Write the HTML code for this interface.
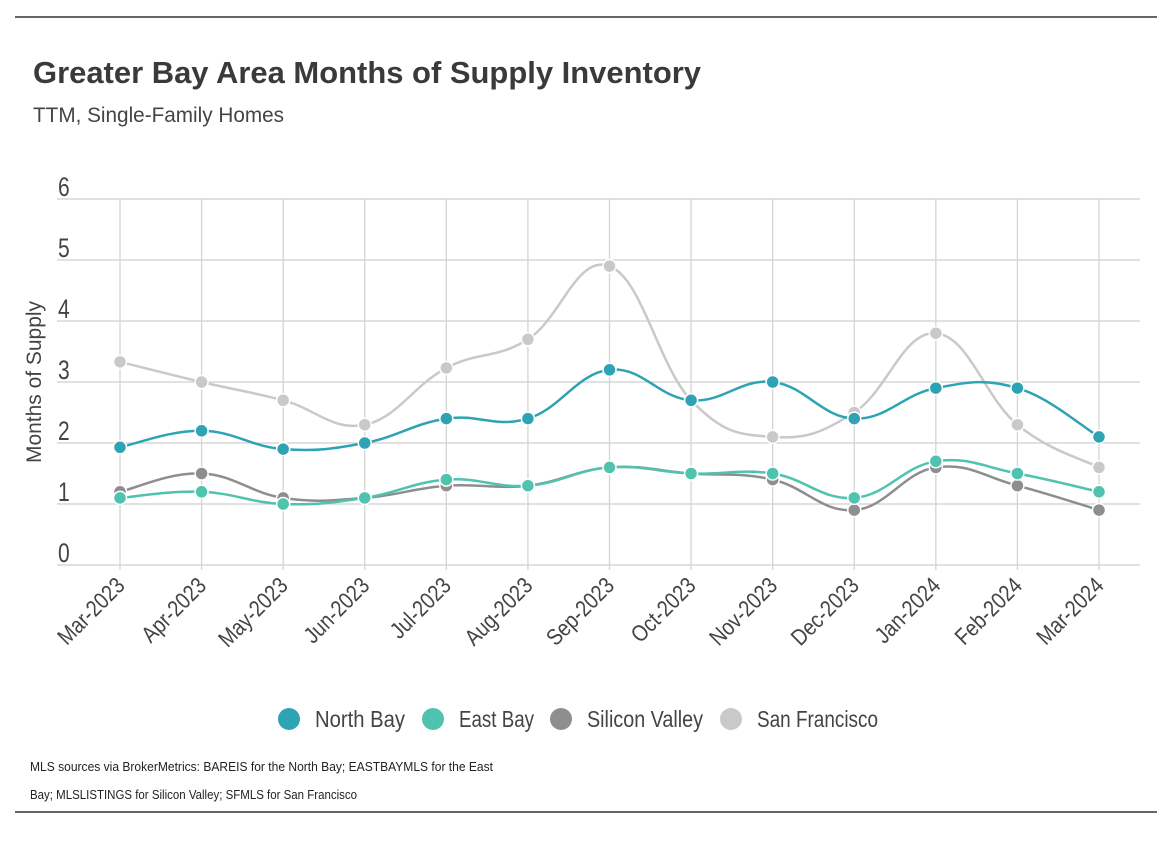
<!DOCTYPE html>
<html><head><meta charset="utf-8"><style>
html,body{margin:0;padding:0;background:#fff;}
body{width:1176px;height:846px;position:relative;overflow:hidden;font-family:"Liberation Sans",sans-serif;}
svg text{font-family:"Liberation Sans",sans-serif;}
</style></head><body>
<svg id="chart" width="1176" height="846" viewBox="0 0 1176 846">
<line x1="15" y1="17" x2="1157" y2="17" stroke="#333" stroke-width="1.5"/>
<line x1="15" y1="812" x2="1157" y2="812" stroke="#333" stroke-width="1.5"/>
<text x="33" y="83" font-size="31" font-weight="bold" fill="#3a3a3a" textLength="668" lengthAdjust="spacingAndGlyphs">Greater Bay Area Months of Supply Inventory</text>
<text x="33" y="122" font-size="21" fill="#444" textLength="251" lengthAdjust="spacingAndGlyphs">TTM, Single-Family Homes</text>
<text transform="translate(41,382) rotate(-90)" text-anchor="middle" font-size="21" fill="#444" textLength="162" lengthAdjust="spacingAndGlyphs">Months of Supply</text>
<g id="grid"></g><g id="series"></g><g id="xlabels"></g>
<g id="legend"></g>
<text x="30" y="771" font-size="12.5" fill="#222" textLength="463" lengthAdjust="spacingAndGlyphs">MLS sources via BrokerMetrics: BAREIS for the North Bay; EASTBAYMLS for the East</text>
<text x="30" y="799" font-size="12.5" fill="#222" textLength="327" lengthAdjust="spacingAndGlyphs">Bay; MLSLISTINGS for Silicon Valley; SFMLS for San Francisco</text>
</svg>
<script>
const categories=["Mar-2023","Apr-2023","May-2023","Jun-2023","Jul-2023","Aug-2023","Sep-2023","Oct-2023","Nov-2023","Dec-2023","Jan-2024","Feb-2024","Mar-2024"];
const northBay=[1.93,2.2,1.9,2.0,2.4,2.4,3.2,2.7,3.0,2.4,2.9,2.9,2.1];
const eastBay=[1.1,1.2,1.0,1.1,1.4,1.3,1.6,1.5,1.5,1.1,1.7,1.5,1.2];
const siliconValley=[1.2,1.5,1.1,1.1,1.3,1.3,1.6,1.5,1.4,0.9,1.6,1.3,0.9];
const sanFrancisco=[3.33,3.0,2.7,2.3,3.23,3.7,4.9,2.7,2.1,2.5,3.8,2.3,1.6];
const yTicks=[0,1,2,3,4,5,6];
const seriesNames=["North Bay","East Bay","Silicon Valley","San Francisco"];
const NS="http://www.w3.org/2000/svg";
function xs(i){return 120+i*(1099-120)/(categories.length-1);}
function ys(v){return 565-v*61;}
function mk(tag,attrs,parent){const e=document.createElementNS(NS,tag);for(const k in attrs)e.setAttribute(k,attrs[k]);parent.appendChild(e);return e;}
const grid=document.getElementById('grid'),ser=document.getElementById('series'),xl=document.getElementById('xlabels'),lg=document.getElementById('legend');
yTicks.forEach(t=>{
 const l=mk('line',{x1:57,x2:1140,y1:ys(t),y2:ys(t),stroke:'#cfcfcf','stroke-width':1.3},grid);
 
 
 const tx=mk('text',{x:58,y:ys(t)-3,'font-size':27,fill:'#444',transform:`translate(58,0) scale(0.78,1) translate(-58,0)`},grid);tx.textContent=t;
 
 
});
categories.forEach((c,i)=>{
 const l=mk('line',{x1:xs(i),x2:xs(i),y1:ys(6),y2:ys(0)+5,stroke:'#d4d4d4','stroke-width':1.3},grid);
 
 
 const tx=mk('text',{transform:`translate(${xs(i)+6},${587}) rotate(-45) scale(0.85,1)`,'text-anchor':'end','font-size':23,fill:'#444'},xl);tx.textContent=c;
 
 
});
function smooth(pts){let d=`M${pts[0][0]},${pts[0][1]}`;for(let i=0;i<pts.length-1;i++){const p0=pts[i-1]||pts[i],p1=pts[i],p2=pts[i+1],p3=pts[i+2]||p2;const t=0.2;
 const c1=[p1[0]+(p2[0]-p0[0])*t,p1[1]+(p2[1]-p0[1])*t],c2=[p2[0]-(p3[0]-p1[0])*t,p2[1]-(p3[1]-p1[1])*t];d+=` C${c1[0]},${c1[1]} ${c2[0]},${c2[1]} ${p2[0]},${p2[1]}`;}return d;}
const data=[northBay,eastBay,siliconValley,sanFrancisco];
const colors=["#2ea3b4","#4fc3ae","#8e8e8e","#c9c9c9"];
const order=[3,2,1,0];
order.forEach(s=>{
 const vals=data[s];const key=seriesNames[s].toLowerCase().replace(/ /g,'-');
 const pts=vals.map((v,i)=>[xs(i),ys(v)]);
 const p=mk('path',{d:smooth(pts),fill:'none',stroke:colors[s],'stroke-width':2.5},ser);
 
 
 pts.forEach((pt,i)=>{const c=mk('circle',{cx:pt[0],cy:pt[1],r:6.5,fill:colors[s],stroke:'#fff','stroke-width':1.5},ser);
  
  });
});
const lx=[289,433,561,731],lw=[90,75,116,121];
seriesNames.forEach((n,s)=>{
 const c=mk('circle',{cx:lx[s],cy:719,r:11,fill:colors[s]},lg);
 
 
 const t=mk('text',{x:lx[s]+26,y:727,'font-size':23,fill:'#444',textLength:lw[s],lengthAdjust:'spacingAndGlyphs'},lg);t.textContent=n;
 
 
});
</script>
</body></html>
